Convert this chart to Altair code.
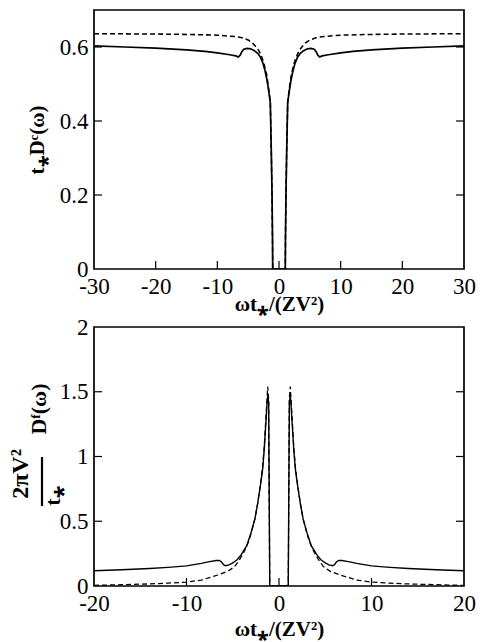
import altair as alt
import pandas as pd

FONT = "Liberation Serif"
W, H = 370, 259

# ---------------- top panel: t* D^c(omega) ----------------
top_solid_x = [-30, -25, -20, -15, -12, -10, -8, -7, -6.6, -6.3, -6.0, -5.7, -5.2, -4.6, -4.0, -3.4, -3.0,
               -2.6, -2.3, -2.0, -1.75, -1.41, -1.25, -1.13, -1.05, -1.02,
               1.02, 1.05, 1.13, 1.25, 1.41, 1.75, 2.0, 2.3, 2.6,
               3.0, 3.4, 4.0, 4.6, 5.2, 5.7, 6.0, 6.3, 6.6, 7, 8, 10, 12, 15, 20, 25, 30]
top_solid_y = [0.603, 0.600, 0.597, 0.592, 0.588, 0.584, 0.579, 0.576, 0.573, 0.578, 0.588, 0.594, 0.596, 0.595, 0.590, 0.582, 0.572,
               0.556, 0.538, 0.515, 0.490, 0.450, 0.320, 0.200, 0.080, 0.0,
               0.0, 0.080, 0.200, 0.320, 0.450, 0.490, 0.515, 0.538, 0.556,
               0.572, 0.582, 0.590, 0.595, 0.596, 0.594, 0.588, 0.578, 0.573, 0.576, 0.579, 0.584, 0.588, 0.592, 0.597, 0.600, 0.603]

top_dash_x = [-30, -20, -15, -10, -7, -6, -5, -4.3, -3.6, -3.2, -2.8, -2.4, -2.0, -1.75, -1.41, -1.25, -1.13, -1.05, -1.02,
              1.02, 1.05, 1.13, 1.25, 1.41, 1.75, 2.0, 2.4, 2.8, 3.2, 3.6, 4.3, 5, 6, 7, 10, 15, 20, 30]
top_dash_y = [0.636, 0.635, 0.634, 0.632, 0.628, 0.625, 0.619, 0.611, 0.598, 0.588, 0.573, 0.553, 0.525, 0.497, 0.452, 0.320, 0.200, 0.080, 0.0,
              0.0, 0.080, 0.200, 0.320, 0.452, 0.497, 0.525, 0.553, 0.573, 0.588, 0.598, 0.611, 0.619, 0.625, 0.628, 0.632, 0.634, 0.635, 0.636]

top_x_labels = [-30, -20, -10, 0, 10, 20, 30]
top_y_labels = [0, 0.2, 0.4, 0.6]
top_x_inner = [-20, -10, 0, 10, 20]
top_y_inner = [0.2, 0.4, 0.6]

# ---------------- bottom panel: (2 pi V^2 / t*) D^f(omega) ----------------
bot_solid_x = [-20, -17, -14, -12, -10, -8.4, -7.5, -6.8, -6.45, -6.2, -6.0, -5.8, -5.4, -5.0, -4.5, -4.1, -3.5, -3.03,
               -2.6, -2.3, -2.0, -1.77, -1.6, -1.4, -1.3, -1.22, -1.12, -1.0,
               1.0, 1.12, 1.22, 1.3, 1.4, 1.6, 1.77, 2.0, 2.3, 2.6,
               3.03, 3.5, 4.1, 4.5, 5.0, 5.4, 5.8, 6.0, 6.2, 6.45, 6.8, 7.5, 8.4, 10, 12, 14, 17, 20]
bot_solid_y = [0.118, 0.125, 0.135, 0.144, 0.155, 0.175, 0.188, 0.197, 0.197, 0.185, 0.165, 0.156, 0.163, 0.178, 0.205, 0.240, 0.310, 0.410,
               0.520, 0.640, 0.780, 0.900, 1.050, 1.280, 1.400, 1.470, 1.420, 0.0,
               0.0, 1.420, 1.470, 1.400, 1.280, 1.050, 0.900, 0.780, 0.640, 0.520,
               0.410, 0.310, 0.240, 0.205, 0.178, 0.163, 0.156, 0.165, 0.185, 0.197, 0.197, 0.188, 0.175, 0.155, 0.144, 0.135, 0.125, 0.118]

bot_dash_x = [-20, -17, -14, -12, -10, -8.4, -6.6, -5.5, -4.8, -4.3, -3.8, -3.3, -3.0, -2.6, -2.3, -2.0, -1.77, -1.6, -1.4, -1.3, -1.22, -1.12, -1.0,
              1.0, 1.12, 1.22, 1.3, 1.4, 1.6, 1.77, 2.0, 2.3, 2.6, 3.0, 3.3, 3.8, 4.3, 4.8, 5.5, 6.6, 8.4, 10, 12, 14, 17, 20]
bot_dash_y = [0.005, 0.010, 0.016, 0.022, 0.030, 0.046, 0.085, 0.115, 0.150, 0.200, 0.260, 0.340, 0.410, 0.520, 0.640, 0.790, 0.920, 1.070, 1.320, 1.440, 1.540, 1.450, 0.0,
              0.0, 1.450, 1.540, 1.440, 1.320, 1.070, 0.920, 0.790, 0.640, 0.520, 0.410, 0.340, 0.260, 0.200, 0.150, 0.115, 0.085, 0.046, 0.030, 0.022, 0.016, 0.010, 0.005]

bot_x_labels = [-20, -10, 0, 10, 20]
bot_y_labels = [0, 0.5, 1, 1.5, 2]
bot_x_inner = [-10, 0, 10]
bot_y_inner = [0.5, 1, 1.5]

X_TITLE = "ωt⁎/(ZV²)"
TOP_Y_TITLE = "t⁎Dᶜ(ω)"
FRAC_NUM = "2πV²"
FRAC_DEN = "t⁎"
FRAC_RHS = "Dᶠ(ω)"

AXIS_STYLE = dict(ticks=False, domain=False, grid=False, labelFlush=False, labelOverlap=False,
                  labelFont=FONT, labelFontSize=23, labelColor="black",
                  titleFont=FONT, titleFontSize=21, titleFontWeight="bold", titleColor="black",
                  labelExpr="'' + datum.value")


def panel(sx, sy, dx, dy, xdom, ydom, xlab, ylab, xin, yin, ytitle, lw, xtpad):
    xs = alt.Scale(domain=xdom, nice=False, zero=False)
    ys = alt.Scale(domain=ydom, nice=False, zero=False)
    xax = alt.Axis(values=xlab, labelPadding=6, titlePadding=xtpad, title=X_TITLE, **AXIS_STYLE)
    yax = alt.Axis(values=ylab, labelPadding=6, titlePadding=12, title=ytitle, **AXIS_STYLE)
    X = alt.X("x:Q", scale=xs, axis=xax)
    Y = alt.Y("y:Q", scale=ys, axis=yax)

    solid = alt.Chart(pd.DataFrame({"x": sx, "y": sy})).mark_line(
        color="black", strokeWidth=lw, clip=True).encode(x=X, y=Y)
    dashed = alt.Chart(pd.DataFrame({"x": dx, "y": dy})).mark_line(
        color="black", strokeWidth=lw * 0.9, strokeDash=[5, 3], clip=True).encode(x=X, y=Y)

    xt = pd.DataFrame({"x": xin})
    yt = pd.DataFrame({"y": yin})
    xticks = alt.Chart(xt).mark_rule(color="black", strokeWidth=1.2).encode(
        x=X, y=alt.value(H), y2=alt.value(H - 8))
    yticks_l = alt.Chart(yt).mark_rule(color="black", strokeWidth=1.2).encode(
        y=Y, x=alt.value(0), x2=alt.value(8))
    yticks_r = alt.Chart(yt).mark_rule(color="black", strokeWidth=1.2).encode(
        y=Y, x=alt.value(W), x2=alt.value(W - 8))
    return [solid, dashed, xticks, yticks_l, yticks_r]


top_layers = panel(top_solid_x, top_solid_y, top_dash_x, top_dash_y, [-30, 30], [0, 0.7],
                   top_x_labels, top_y_labels, top_x_inner, top_y_inner, TOP_Y_TITLE, 1.7, -5)
top = alt.layer(*top_layers).properties(width=W, height=H)

bot_layers = panel(bot_solid_x, bot_solid_y, bot_dash_x, bot_dash_y, [-20, 20], [0, 2],
                   bot_x_labels, bot_y_labels, bot_x_inner, bot_y_inner, "", 1.4, 3)


def rot_text(s, x, y, size):
    return alt.Chart(pd.DataFrame({"s": [s]})).mark_text(
        font=FONT, fontSize=size, fontWeight="bold", angle=270, align="center",
        baseline="middle", color="black"
    ).encode(text="s:N", x=alt.value(x), y=alt.value(y))


# fraction-style y title for the lower panel
num_txt = rot_text(FRAC_NUM, -73, 147, 24)
den_txt = rot_text(FRAC_DEN, -41, 169, 22)
rhs_txt = rot_text(FRAC_RHS, -55, 82, 22)
bar = alt.Chart(pd.DataFrame({"s": ["bar"]})).mark_rule(color="black", strokeWidth=2.2).encode(
    x=alt.value(-52), y=alt.value(130), y2=alt.value(179))

bottom = alt.layer(*bot_layers, num_txt, den_txt, rhs_txt, bar).properties(width=W, height=H)

chart = alt.vconcat(top, bottom, spacing=0).properties(
    padding={"left": 8, "top": 9, "right": 5, "bottom": 2}
).configure_view(stroke="black", strokeWidth=1.7)

chart.save("out.html", embed_options={"renderer": "svg", "actions": False})
